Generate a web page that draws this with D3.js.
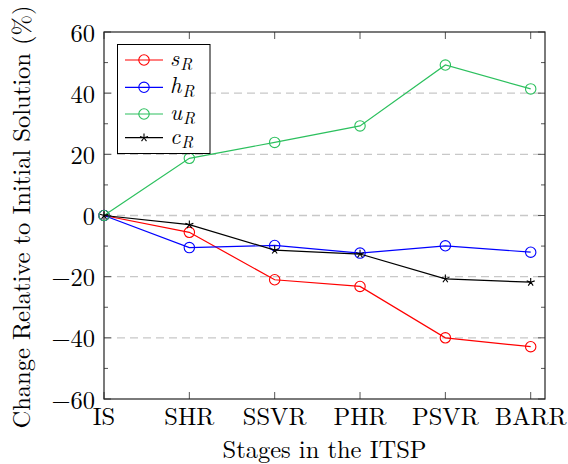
<!DOCTYPE html>
<html>
<head>
<meta charset="utf-8">
<script src="https://cdn.jsdelivr.net/npm/d3@7"></script>
<style>
body { margin: 0; background: #fff; }
svg { display: block; }
</style>
</head>
<body>
<div id="chart"></div>
<script>
// stages and values (% change)
var stages = ['IS', 'SHR', 'SSVR', 'PHR', 'PSVR', 'BARR'];
var sR = [0, -5.5, -21, -23.2, -40, -42.9];
var hR = [0, -10.5, -9.8, -12.3, -9.9, -12];
var uR = [0, 18.7, 23.9, 29.3, 49.2, 41.4];
var cR = [0, -3, -11.3, -12.6, -20.7, -21.8];
var yTicks = [-60, -40, -20, 0, 20, 40, 60];
var yMinor = [-50, -30, -10, 10, 30, 50];

var series = [
	{ name: 's', values: sR, color: '#ff0000', mark: 'circle' },
	{ name: 'h', values: hR, color: '#0000ff', mark: 'circle' },
	{ name: 'u', values: uR, color: '#2cc05e', mark: 'circle' },
	{ name: 'c', values: cR, color: '#000000', mark: 'star' }
];

var svgWidth = 568,
	svgHeight = 464,
	plotLeft = 104,
	plotRight = 545,
	plotTop = 32,
	plotBottom = 399,
	fontSize = '24.5px';

var svg = d3.select('#chart')
	.append('svg')
	.attr('width', svgWidth)
	.attr('height', svgHeight)
	.attr('font-family', "'Latin Modern Roman', 'Liberation Serif', serif");

var x = d3.scalePoint()
	.domain(stages)
	.range([plotLeft, 530.7]);

var y = d3.scaleLinear()
	.domain([-60, 60])
	.range([plotBottom, plotTop]);

// dashed grid
svg.append('g')
	.selectAll('line')
	.data(yTicks.filter(function(d) { return d > -60 && d < 60; }))
	.enter().append('line')
	.attr('x1', plotLeft).attr('x2', plotRight)
	.attr('y1', function(d) { return y(d); })
	.attr('y2', function(d) { return y(d); })
	.attr('stroke', '#c8c8c8')
	.attr('stroke-width', 1.3)
	.attr('stroke-dasharray', '8,5');

// ticks pointing inward
var tickG = svg.append('g').attr('stroke', '#555').attr('stroke-width', 1);
yTicks.concat(yMinor).forEach(function(d) {
	var len = yTicks.indexOf(d) >= 0 ? 7 : 4;
	tickG.append('line').attr('x1', plotLeft).attr('x2', plotLeft + len).attr('y1', y(d)).attr('y2', y(d));
	tickG.append('line').attr('x1', plotRight).attr('x2', plotRight - len).attr('y1', y(d)).attr('y2', y(d));
});
stages.forEach(function(s) {
	tickG.append('line').attr('x1', x(s)).attr('x2', x(s)).attr('y1', plotBottom).attr('y2', plotBottom - 7);
	tickG.append('line').attr('x1', x(s)).attr('x2', x(s)).attr('y1', plotTop).attr('y2', plotTop + 7);
});

// frame
svg.append('rect')
	.attr('x', plotLeft).attr('y', plotTop)
	.attr('width', plotRight - plotLeft).attr('height', plotBottom - plotTop)
	.attr('fill', 'none')
	.attr('stroke', '#222')
	.attr('stroke-width', 1.2);

// tick labels
svg.append('g')
	.selectAll('text')
	.data(yTicks)
	.enter().append('text')
	.attr('x', plotLeft - 9)
	.attr('y', function(d) { return y(d) + 9.5; })
	.attr('text-anchor', 'end')
	.attr('font-size', fontSize)
	.text(function(d) { return d < 0 ? '\u2212' + Math.abs(d) : d; });

svg.append('g')
	.selectAll('text')
	.data(stages)
	.enter().append('text')
	.attr('x', function(d) { return x(d); })
	.attr('y', plotBottom + 26)
	.attr('text-anchor', 'middle')
	.attr('font-size', fontSize)
	.text(function(d) { return d; });

// axis titles
svg.append('text')
	.attr('x', (plotLeft + plotRight) / 2)
	.attr('y', 458)
	.attr('text-anchor', 'middle')
	.attr('font-size', fontSize)
	.text('Stages in the ITSP');

svg.append('text')
	.attr('transform', 'translate(30,217) rotate(-90)')
	.attr('text-anchor', 'middle')
	.attr('font-size', fontSize)
	.text('Change Relative to Initial Solution (%)');

function starPath(r) {
	var p = '';
	for (var i = 0; i < 5; i++) {
		var a = -Math.PI / 2 + i * 2 * Math.PI / 5;
		p += 'M0,0L' + (r * Math.cos(a)).toFixed(2) + ',' + (r * Math.sin(a)).toFixed(2);
	}
	return p;
}

function drawMark(g, s, cx, cy) {
	if (s.mark === 'circle') {
		g.append('circle')
			.attr('cx', cx).attr('cy', cy).attr('r', 5.2)
			.attr('fill', 'none')
			.attr('stroke', s.color)
			.attr('stroke-width', 1.1);
	} else {
		g.append('path')
			.attr('d', starPath(4.2))
			.attr('transform', 'translate(' + cx + ',' + cy + ')')
			.attr('fill', 'none')
			.attr('stroke', s.color)
			.attr('stroke-width', 1.1);
	}
}

var line = d3.line()
	.x(function(d, i) { return x(stages[i]); })
	.y(function(d) { return y(d); });

series.forEach(function(s) {
	var g = svg.append('g');
	g.append('path')
		.attr('d', line(s.values))
		.attr('fill', 'none')
		.attr('stroke', s.color)
		.attr('stroke-width', 1.2);
	s.values.forEach(function(v, i) {
		drawMark(g, s, x(stages[i]), y(v));
	});
});

// legend
var legend = svg.append('g');
legend.append('rect')
	.attr('x', 117.5).attr('y', 44.5)
	.attr('width', 92.5).attr('height', 109)
	.attr('fill', '#fff')
	.attr('stroke', '#000')
	.attr('stroke-width', 1);

var rowY = [60, 87.3, 114, 137.7];
series.forEach(function(s, i) {
	var ly = rowY[i];
	legend.append('line')
		.attr('x1', 125).attr('x2', 163)
		.attr('y1', ly).attr('y2', ly)
		.attr('stroke', s.color)
		.attr('stroke-width', 1.2);
	drawMark(legend, s, 144, ly);
	var t = legend.append('text')
		.attr('x', 170)
		.attr('y', ly + 6)
		.attr('font-size', '22.5px')
		.attr('font-style', 'italic');
	t.append('tspan').text(s.name);
	t.append('tspan')
		.attr('font-size', '16.5px')
		.attr('dx', 1)
		.attr('dy', 4)
		.text('R');
});
</script>
</body>
</html>
